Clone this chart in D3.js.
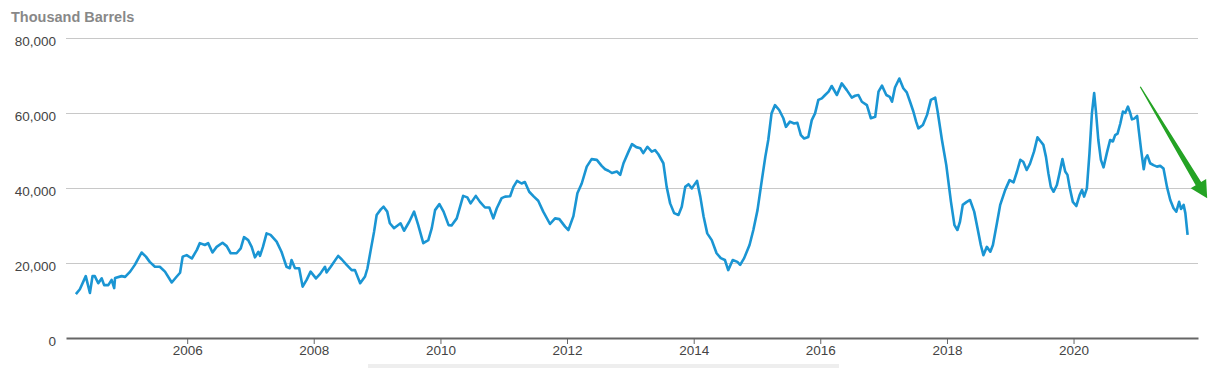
<!DOCTYPE html>
<html>
<head>
<meta charset="utf-8">
<script src="https://cdn.jsdelivr.net/npm/d3@7"></script>
<style>
  body { margin: 0; background: #fff; }
  svg { display: block; font-family: "Liberation Sans", Arial, sans-serif; }
</style>
</head>
<body>
<svg width="1226" height="368"></svg>
<script>
// weekly stocks, thousand barrels
const dates = [
  "2004-03-30","2004-04-22","2004-05-26","2004-06-19","2004-07-04","2004-07-17","2004-08-06","2004-08-26","2004-09-09","2004-10-03",
  "2004-10-22","2004-11-06","2004-11-11","2004-12-19","2005-01-08","2005-02-06","2005-03-05","2005-04-13","2005-05-08","2005-05-30",
  "2005-06-29","2005-07-27","2005-08-26","2005-10-04","2005-11-02","2005-11-21","2005-12-06","2005-12-29","2006-01-28","2006-02-26",
  "2006-03-15","2006-04-13","2006-05-02","2006-05-27","2006-06-20","2006-07-24","2006-08-17","2006-09-09","2006-10-13","2006-11-06",
  "2006-11-25","2006-12-19","2007-01-08","2007-01-27","2007-02-16","2007-02-25","2007-03-14","2007-04-04","2007-04-27","2007-06-01",
  "2007-06-29","2007-07-28","2007-08-16","2007-08-26","2007-09-15","2007-10-09","2007-10-29","2007-11-21","2007-12-14","2008-01-14",
  "2008-02-07","2008-03-06","2008-03-15","2008-04-08","2008-05-21","2008-06-10","2008-07-09","2008-08-07","2008-08-26","2008-09-25",
  "2008-10-23","2008-11-06","2008-11-25","2008-12-14","2008-12-29","2009-01-22","2009-02-07","2009-02-28","2009-03-15","2009-04-08",
  "2009-04-23","2009-05-16","2009-06-05","2009-07-05","2009-08-02","2009-08-26","2009-09-24","2009-10-23","2009-11-12","2009-12-01",
  "2009-12-26","2010-01-19","2010-02-17","2010-03-06","2010-04-05","2010-05-12","2010-06-05","2010-06-24","2010-07-24","2010-08-17",
  "2010-09-15","2010-10-10","2010-11-02","2010-11-22","2010-12-20","2011-01-09","2011-02-07","2011-02-26","2011-03-19","2011-04-14",
  "2011-05-03","2011-05-28","2011-06-24","2011-07-19","2011-08-17","2011-09-25","2011-10-24","2011-11-18","2011-12-21","2012-01-09",
  "2012-02-07","2012-03-01","2012-03-26","2012-04-24","2012-05-22","2012-06-21","2012-07-19","2012-08-08","2012-08-27","2012-09-16",
  "2012-10-15","2012-11-03","2012-11-22","2012-12-21","2013-01-10","2013-02-04","2013-02-27","2013-03-16","2013-04-09","2013-05-04",
  "2013-05-23","2013-06-11","2013-07-10","2013-07-29","2013-08-18","2013-09-10","2013-10-05","2013-10-24","2013-11-13","2013-12-02",
  "2013-12-21","2014-01-20","2014-02-08","2014-02-27","2014-03-20","2014-04-15","2014-05-13","2014-06-06","2014-06-30","2014-07-19",
  "2014-08-14","2014-09-10","2014-09-26","2014-10-19","2014-11-19","2014-12-11","2015-01-04","2015-01-29","2015-02-18","2015-03-07",
  "2015-03-26","2015-04-15","2015-05-09","2015-06-02","2015-06-17","2015-07-10","2015-08-03","2015-08-22","2015-09-11","2015-09-30",
  "2015-10-24","2015-11-13","2015-12-02","2015-12-21","2016-01-10","2016-01-29","2016-02-18","2016-03-07","2016-04-06","2016-05-04",
  "2016-06-02","2016-07-01","2016-07-20","2016-08-08","2016-08-28","2016-09-26","2016-10-19","2016-11-13","2016-12-02","2016-12-22",
  "2017-01-16","2017-02-05","2017-02-18","2017-03-07","2017-04-01","2017-04-24","2017-05-14","2017-06-02","2017-06-21","2017-07-07",
  "2017-07-20","2017-08-15","2017-09-08","2017-09-30","2017-10-25","2017-11-08","2017-12-03","2017-12-28","2018-01-24","2018-02-13",
  "2018-03-02","2018-03-17","2018-04-02","2018-04-25","2018-05-14","2018-06-07","2018-06-26","2018-07-15","2018-07-30","2018-08-19",
  "2018-09-08","2018-09-23","2018-10-16","2018-11-04","2018-12-03","2018-12-28","2019-01-20","2019-02-09","2019-02-28","2019-03-17",
  "2019-04-06","2019-04-25","2019-05-18","2019-06-07","2019-06-26","2019-07-11","2019-07-26","2019-08-09","2019-08-23","2019-09-08",
  "2019-09-27","2019-10-12","2019-10-29","2019-11-14","2019-11-27","2019-12-09","2019-12-28","2020-01-17","2020-02-05","2020-02-19",
  "2020-03-02","2020-03-18","2020-04-02","2020-04-16","2020-04-29","2020-05-10","2020-05-23","2020-06-07","2020-06-22","2020-07-11",
  "2020-07-30","2020-08-15","2020-08-28","2020-09-11","2020-09-27","2020-10-12","2020-10-25","2020-11-10","2020-11-23","2020-12-03",
  "2020-12-16","2021-01-02","2021-01-11","2021-01-25","2021-02-09","2021-02-19","2021-03-02","2021-03-18","2021-04-06","2021-04-26",
  "2021-05-15","2021-06-03","2021-06-23","2021-07-12","2021-07-31","2021-08-16","2021-09-01","2021-09-12","2021-09-27","2021-10-07",
  "2021-10-20"
];
const stocks = [
  11700,13000,16500,12000,16500,16500,14600,15900,14100,14100,
  15500,13300,16000,16500,16300,17700,19500,22800,21700,20300,
  19000,19000,17700,14800,16400,17400,21700,22100,21200,23500,
  25300,24800,25300,22800,24300,25400,24500,22600,22600,23900,
  26900,26100,24300,21500,23000,21900,24300,27900,27500,25700,
  23000,19000,18600,20800,18600,18600,13700,15500,17700,15900,
  17100,19000,17500,19000,21900,21000,19500,18100,18100,14600,
  16400,18600,23500,28300,32800,34300,35000,33700,30600,29300,
  29800,30600,28600,31000,33700,30100,25300,26100,29300,34100,
  35700,33700,30100,30000,31900,37900,37500,35900,37900,36300,
  34800,34800,31900,34600,37300,37700,37800,40300,41900,41200,
  41600,39000,37700,36600,33700,30400,31900,31700,29700,28800,
  32500,38600,41200,45700,47700,47500,45900,45000,44600,44000,
  44400,43500,46600,49700,51700,50900,50600,49300,51000,49700,
  50100,49000,46600,40300,35900,33300,32800,35000,40300,41000,
  39900,41900,37700,32400,27900,26100,22600,21300,20800,18100,
  20800,20300,19500,21300,24800,28800,34100,42100,48300,52800,
  59900,62100,60800,58600,56300,57700,57200,57400,54100,53200,
  53600,58100,59900,63500,63900,64800,65700,67200,64800,67900,
  66100,64100,64600,64800,63000,62100,58600,59000,65700,67300,
  64800,64300,63000,66800,69200,66600,65500,63000,60400,57700,
  55900,56800,59500,63500,64100,60400,52800,46100,36300,30100,
  28800,31000,35500,36300,36800,33700,29300,24800,22100,24300,
  23000,24800,30600,35500,39500,42100,41500,44400,47500,47000,
  44800,46500,49700,53500,52400,51500,48300,43900,40300,39000,
  40800,43900,47700,44400,43500,40300,36300,35200,38100,39500,
  37700,39900,49300,59900,65300,60000,52800,47500,45500,49300,
  52800,52400,54100,54500,57200,60400,60000,61700,60000,58300,
  58500,59200,55500,50100,45000,47900,48700,46600,46100,45700,
  45900,45200,40300,36800,34600,33700,36300,34400,35500,33300,
  27500
];
const yTicks = [0, 20000, 40000, 60000, 80000];
const xTickYears = [2006, 2008, 2010, 2012, 2014, 2016, 2018, 2020];
const yTitle = "Thousand Barrels";
// trend arrow annotation: [date, value] start and tip
const arrowFrom = ["2021-01-20", 67000];
const arrowTo = ["2022-02-10", 37300];

const parse = d3.timeParse("%Y-%m-%d");
const data = dates.map((d, i) => ({ date: parse(d), value: stocks[i] }));

const svg = d3.select("svg");
const plotL = 66, plotR = 1198, plotT = 38, plotB = 338;

const x = d3.scaleTime()
  .domain([parse("2004-02-02"), parse("2021-12-19")])
  .range([plotL, plotR]);
const y = d3.scaleLinear().domain([0, 80000]).range([plotB, plotT]);

// 제목
svg.append("text")
  .attr("x", 11)
  .attr("y", 22)
  .text(yTitle)
  .style("font-size", "14.5px")
  .style("font-weight", "bold")
  .style("fill", "#888");

// 가로 그리드 + y 라벨
const yAxis = d3.axisLeft(y)
  .tickValues(yTicks)
  .tickSize(-(plotR - plotL))
  .tickFormat(d3.format(","));
const gy = svg.append("g").attr("transform", `translate(${plotL},0)`).call(yAxis);
gy.select(".domain").remove();
gy.selectAll(".tick line").attr("stroke", "#c8c8c8").attr("stroke-width", 1);
gy.selectAll(".tick").filter((d) => d === 0).select("line").remove();
gy.selectAll(".tick text")
  .attr("x", -10)
  .attr("dy", "0.55em")
  .style("font-size", "13.5px")
  .style("fill", "#444")
  .style("font-family", "'Liberation Sans', Arial, sans-serif");

// x 축
const xAxis = d3.axisBottom(x)
  .tickValues(xTickYears.map((yr) => new Date(yr, 0, 1)))
  .tickSize(6)
  .tickSizeOuter(0)
  .tickFormat(d3.timeFormat("%Y"));
const gx = svg.append("g").attr("transform", `translate(0,${plotB})`).call(xAxis);
gx.select(".domain").attr("stroke", "#666").attr("stroke-width", 2);
gx.selectAll(".tick line").attr("stroke", "#666");
gx.selectAll(".tick text")
  .attr("y", 7)
  .style("font-size", "13.5px")
  .style("fill", "#444")
  .style("font-family", "'Liberation Sans', Arial, sans-serif");

// 라인
const line = d3.line()
  .x((d) => x(d.date))
  .y((d) => y(d.value));
svg.append("path")
  .datum(data)
  .attr("d", line)
  .attr("fill", "none")
  .attr("stroke", "#1a95d3")
  .attr("stroke-width", 2.6)
  .attr("stroke-linejoin", "round");

// 화살표
const ax0 = x(parse(arrowFrom[0])), ay0 = y(arrowFrom[1]);
const ax1 = x(parse(arrowTo[0])), ay1 = y(arrowTo[1]);
const len = Math.hypot(ax1 - ax0, ay1 - ay0);
const ux = (ax1 - ax0) / len, uy = (ay1 - ay0) / len;
const nx = -uy, ny = ux;
const headLen = 17, headHalf = 9, shaftEnd = 3.2, shaftStart = 0.6;
const bx = ax1 - ux * headLen, by = ay1 - uy * headLen;
const pts = [
  [ax0 + nx * shaftStart, ay0 + ny * shaftStart],
  [bx + nx * shaftEnd, by + ny * shaftEnd],
  [bx + nx * headHalf, by + ny * headHalf],
  [ax1, ay1],
  [bx - nx * headHalf, by - ny * headHalf],
  [bx - nx * shaftEnd, by - ny * shaftEnd],
  [ax0 - nx * shaftStart, ay0 - ny * shaftStart]
];
svg.append("path")
  .attr("d", "M" + pts.map((p) => p.join(",")).join("L") + "Z")
  .attr("fill", "#24a324");

// 아래쪽 스크롤 바
svg.append("rect")
  .attr("x", 368).attr("y", 364)
  .attr("width", 471).attr("height", 4)
  .attr("fill", "#eeeeee");
</script>
</body>
</html>
